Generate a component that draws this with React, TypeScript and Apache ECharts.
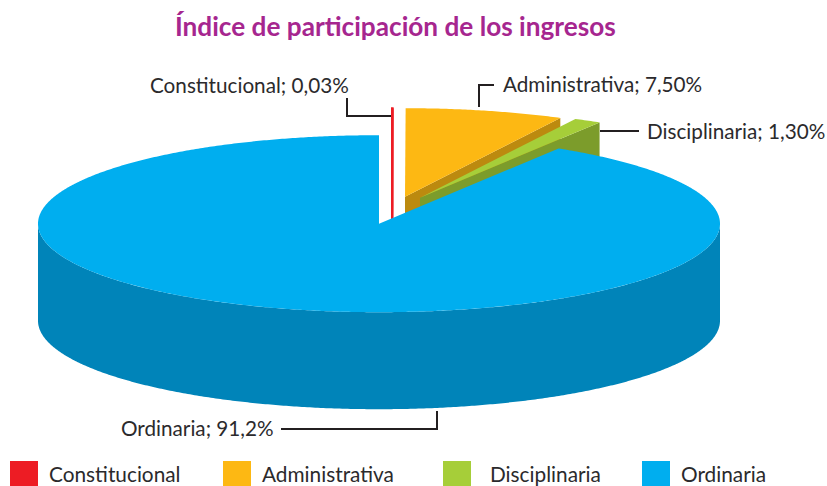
import React, { useEffect, useRef } from "react";
import * as echarts from "echarts";

const categories = ["Constitucional", "Administrativa", "Disciplinaria", "Ordinaria"];
const values = [0.03, 7.5, 1.3, 91.2];
const valueLabels = ["0,03%", "7,50%", "1,30%", "91,2%"];
const titleText = "Índice de participación de los ingresos";

const topColors = ["#ED1C24", "#FDB813", "#A6CE39", "#00AEEF"];
const wallColors = ["#ED1C24", "#BC8A0F", "#7C9C2B", "#0084B9"];
const explode = [[13, -27], [26, -27], [41, -26], [0, 0]];
const strokeWidths = [2, 0, 0, 0];

const CX = 379, CY = 223.7, RX = 341, RY = 88.5, DEPTH = 97;
const FONT = "Lato";
const TEXT = "#2B2A2C";

const total = values.reduce((a, b) => a + b, 0);
const rad = (v: number) => (v / total) * Math.PI * 2;

function sector(i: number) {
  let s = 0;
  for (let k = 0; k < i; k++) s += values[k];
  return [rad(s), rad(s + values[i])];
}
function pt(i: number, a: number, dz = 0) {
  return [CX + explode[i][0] + RX * Math.sin(a), CY + explode[i][1] - RY * Math.cos(a) + dz];
}
function arc(i: number, from: number, to: number, dz = 0) {
  const n = Math.max(2, Math.ceil(Math.abs(to - from) / 0.008));
  const out: number[][] = [];
  for (let k = 0; k <= n; k++) out.push(pt(i, from + ((to - from) * k) / n, dz));
  return out;
}

function makeRender(i: number) {
  return () => {
    const [a0, a1] = sector(i);
    const apex = [CX + explode[i][0], CY + explode[i][1]];
    const children: any[] = [];
    if (i === categories.length - 1) {
      // the outer rim, seen from the front
      const from = Math.PI / 2, to = (Math.PI * 3) / 2;
      children.push({
        type: "polygon",
        shape: { points: [...arc(i, from, to), ...arc(i, to, from, DEPTH)] },
        style: { fill: wallColors[i] },
      });
    } else {
      // the cut face along the slice's far edge
      const e = pt(i, a1);
      children.push({
        type: "polygon",
        shape: { points: [apex, e, [e[0], e[1] + DEPTH], [apex[0], apex[1] + DEPTH]] },
        style: { fill: wallColors[i], stroke: strokeWidths[i] ? wallColors[i] : undefined, lineWidth: strokeWidths[i] },
      });
    }
    children.push({
      type: "polygon",
      shape: { points: [apex, ...arc(i, a0, a1)] },
      style: { fill: topColors[i], stroke: strokeWidths[i] ? topColors[i] : undefined, lineWidth: strokeWidths[i] },
    });
    return { type: "group", children };
  };
}

const labelPos = [
  { x: 150, y: 85 },
  { x: 503, y: 84 },
  { x: 647, y: 131 },
  { x: 121, y: 428 },
];
const leaders = [
  [[347, 98], [347, 116], [391, 116]],
  [[479, 107], [479, 85], [494, 85]],
  [[600, 131], [639, 131]],
  [[281, 429], [437, 429], [437, 411]],
];
const legendPos = [
  { left: 10, top: 461 },
  { left: 223, top: 461 },
  { left: 443, top: 461 },
  { left: 642, top: 461 },
];
const legendTextPadding = [
  [5, 0, 0, 6],
  [5, 0, 0, 6],
  [0, 0, 5, 14],
  [5, 0, 0, 6],
];

export default function App() {
  const ref = useRef<HTMLDivElement>(null);
  useEffect(() => {
    document.body.style.margin = "0";
    const chart = echarts.init(ref.current!, null, { renderer: "svg" });
    chart.setOption({
      animation: false,
      title: {
        text: titleText,
        left: 175,
        top: 13,
        padding: 0,
        textStyle: { fontFamily: FONT, fontSize: 26.2, fontWeight: "bold", color: "#A6268F" },
      },
      legend: categories.map((c, i) => ({
        data: [c],
        left: legendPos[i].left,
        top: legendPos[i].top,
        padding: 0,
        icon: "rect",
        itemWidth: 28,
        itemHeight: 25,
        selectedMode: false,
        textStyle: { fontFamily: FONT, fontSize: 20.8, color: TEXT, padding: legendTextPadding[i] },
      })),
      series: categories.map((c, i) => ({
        type: "custom",
        name: c,
        coordinateSystem: "none",
        itemStyle: { color: topColors[i] },
        data: [values[i]],
        renderItem: makeRender(i),
        silent: true,
      })),
      graphic: [
        ...leaders.map((pts) => ({
          type: "polyline",
          shape: { points: pts },
          style: { stroke: "#231F20", lineWidth: 2, fill: "none" },
          z: 10,
        })),
        ...categories.map((c, i) => ({
          type: "text",
          x: labelPos[i].x,
          y: labelPos[i].y,
          style: {
            text: `${c}; ${valueLabels[i]}`,
            fontFamily: FONT,
            fontSize: 20.7,
            fill: TEXT,
            verticalAlign: "middle",
          },
          z: 10,
        })),
      ],
    });
    return () => chart.dispose();
  }, []);
  return <div ref={ref} style={{ width: 827, height: 486 }} />;
}
